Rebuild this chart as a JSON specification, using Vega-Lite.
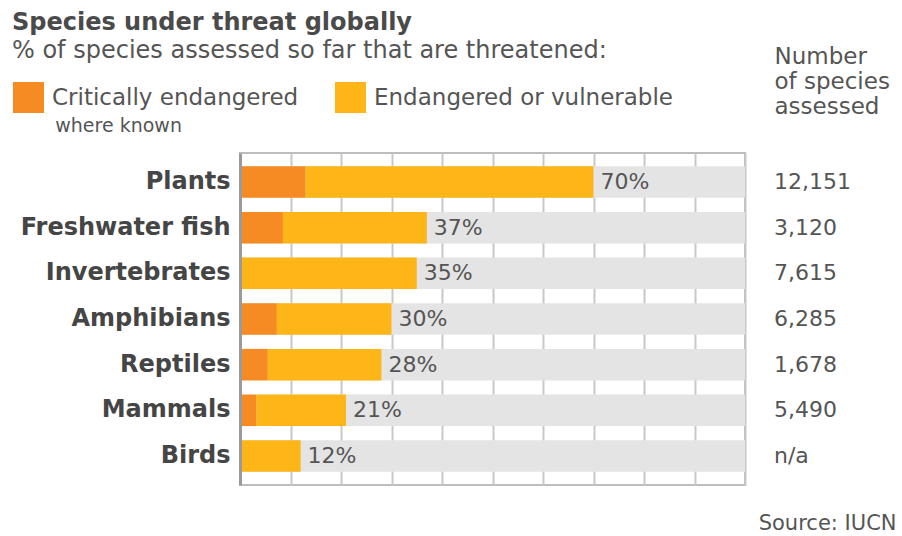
{
  "$schema": "https://vega.github.io/schema/vega-lite/v6.json",
  "autosize": {"type": "none"},
  "padding": {"left": 240, "top": 153, "right": 157, "bottom": 51},
  "width": 505,
  "height": 332,
  "background": "white",
  "config": {
    "font": "DejaVu Sans",
    "view": {"stroke": "#bdbdbd", "strokeWidth": 2},
    "axisX": {
      "grid": true, "gridColor": "#c8c8c8", "gridWidth": 2,
      "labels": false, "ticks": false, "domain": false,
      "titleFontSize": 21, "titleFontWeight": "normal", "titleColor": "#555555"
    }
  },
  "title": {
    "text": "Species under threat globally",
    "subtitle": "% of species assessed so far that are threatened:",
    "anchor": "start",
    "frame": "group",
    "offset": 0,
    "dx": -228,
    "dy": 18,
    "font": "DejaVu Sans",
    "fontSize": 24,
    "fontWeight": "bold",
    "color": "#4a4a4a",
    "subtitleFont": "DejaVu Sans",
    "subtitleFontSize": 24,
    "subtitleColor": "#555555",
    "subtitlePadding": 4
  },
  "datasets": {
    "segments": [
      {"group": "Plants", "status": "Critically endangered", "ord": 1, "value": 13},
      {"group": "Plants", "status": "Endangered or vulnerable", "ord": 2, "value": 57},
      {"group": "Freshwater fish", "status": "Critically endangered", "ord": 1, "value": 8.5},
      {"group": "Freshwater fish", "status": "Endangered or vulnerable", "ord": 2, "value": 28.5},
      {"group": "Invertebrates", "status": "Endangered or vulnerable", "ord": 2, "value": 35},
      {"group": "Amphibians", "status": "Critically endangered", "ord": 1, "value": 7.3},
      {"group": "Amphibians", "status": "Endangered or vulnerable", "ord": 2, "value": 22.7},
      {"group": "Reptiles", "status": "Critically endangered", "ord": 1, "value": 5.5},
      {"group": "Reptiles", "status": "Endangered or vulnerable", "ord": 2, "value": 22.5},
      {"group": "Mammals", "status": "Critically endangered", "ord": 1, "value": 3.2},
      {"group": "Mammals", "status": "Endangered or vulnerable", "ord": 2, "value": 17.8},
      {"group": "Birds", "status": "Endangered or vulnerable", "ord": 2, "value": 12}
    ],
    "totals": [
      {"group": "Plants", "total": 70, "pct": "70%", "assessed": "12,151"},
      {"group": "Freshwater fish", "total": 37, "pct": "37%", "assessed": "3,120"},
      {"group": "Invertebrates", "total": 35, "pct": "35%", "assessed": "7,615"},
      {"group": "Amphibians", "total": 30, "pct": "30%", "assessed": "6,285"},
      {"group": "Reptiles", "total": 28, "pct": "28%", "assessed": "1,678"},
      {"group": "Mammals", "total": 21, "pct": "21%", "assessed": "5,490"},
      {"group": "Birds", "total": 12, "pct": "12%", "assessed": "n/a"}
    ]
  },
  "layer": [
    {
      "data": {"name": "totals"},
      "mark": {"type": "bar", "color": "#e4e4e4"},
      "encoding": {
        "y": {
          "field": "group", "type": "nominal",
          "sort": ["Plants", "Freshwater fish", "Invertebrates", "Amphibians", "Reptiles", "Mammals", "Birds"],
          "scale": {"paddingInner": 0.31, "paddingOuter": 0.29},
          "axis": {
            "title": null, "ticks": false, "grid": false,
            "domainColor": "#9a9a9a", "domainWidth": 3, "zindex": 1,
            "labelFontSize": 24, "labelFontWeight": "bold", "labelColor": "#454545",
            "labelPadding": 10, "labelLimit": 300
          }
        },
        "x": {
          "datum": 100, "type": "quantitative",
          "scale": {"domain": [0, 100], "nice": false},
          "axis": {
            "values": [0, 10, 20, 30, 40, 50, 60, 70, 80, 90, 100],
            "title": "Source: IUCN", "titleX": 656, "titleY": 38,
            "titleAlign": "right", "titleBaseline": "middle"
          }
        }
      }
    },
    {
      "data": {"name": "segments"},
      "mark": {"type": "bar"},
      "encoding": {
        "y": {
          "field": "group", "type": "nominal",
          "sort": ["Plants", "Freshwater fish", "Invertebrates", "Amphibians", "Reptiles", "Mammals", "Birds"],
          "axis": null
        },
        "x": {
          "field": "value", "type": "quantitative", "stack": "zero",
          "axis": {
            "values": [0, 10, 20, 30, 40, 50, 60, 70, 80, 90, 100],
            "title": "Source: IUCN", "titleX": 656, "titleY": 38,
            "titleAlign": "right", "titleBaseline": "middle"
          }
        },
        "order": {"field": "ord", "type": "quantitative"},
        "color": {
          "field": "status", "type": "nominal",
          "scale": {
            "domain": ["Critically endangered", "Endangered or vulnerable"],
            "range": ["#f58b22", "#fdb517"]
          },
          "legend": {
            "orient": "none", "legendX": -227, "legendY": -71,
            "direction": "horizontal",
            "title": "\u200b\u00a0\u00a0\u00a0\u00a0\u00a0\u00a0\u00a0where known",
            "titleOrient": "bottom", "titleAnchor": "start",
            "titleFontSize": 19, "titleFontWeight": "normal", "titleColor": "#555555",
            "titlePadding": 4,
            "symbolType": "square", "symbolSize": 961, "symbolStrokeWidth": 0, "symbolOpacity": 1,
            "labelFontSize": 23, "labelColor": "#555555", "labelOffset": 8, "labelLimit": 400,
            "columnPadding": 36, "padding": 0
          }
        }
      }
    },
    {
      "data": {"name": "totals"},
      "mark": {"type": "text", "align": "left", "baseline": "middle", "dx": 7, "fontSize": 22, "color": "#555555"},
      "encoding": {
        "y": {
          "field": "group", "type": "nominal",
          "sort": ["Plants", "Freshwater fish", "Invertebrates", "Amphibians", "Reptiles", "Mammals", "Birds"],
          "axis": null
        },
        "x": {
          "field": "total", "type": "quantitative",
          "axis": {
            "values": [0, 10, 20, 30, 40, 50, 60, 70, 80, 90, 100],
            "title": "Source: IUCN", "titleX": 656, "titleY": 38,
            "titleAlign": "right", "titleBaseline": "middle"
          }
        },
        "text": {"field": "pct"}
      }
    },
    {
      "data": {"name": "totals"},
      "mark": {"type": "text", "align": "left", "baseline": "middle", "dx": 29, "fontSize": 22, "color": "#555555"},
      "encoding": {
        "y": {
          "field": "group", "type": "nominal",
          "sort": ["Plants", "Freshwater fish", "Invertebrates", "Amphibians", "Reptiles", "Mammals", "Birds"],
          "axis": {
            "orient": "right", "labels": false, "ticks": false, "domain": false, "grid": false,
            "title": ["Number", "of species", "assessed"],
            "titleAngle": 0, "titleAlign": "left", "titleBaseline": "alphabetic",
            "titleX": 29, "titleY": -90, "titleLineHeight": 25,
            "titleFontSize": 23, "titleFontWeight": "normal", "titleColor": "#555555"
          }
        },
        "x": {
          "datum": 100, "type": "quantitative",
          "axis": {
            "values": [0, 10, 20, 30, 40, 50, 60, 70, 80, 90, 100],
            "title": "Source: IUCN", "titleX": 656, "titleY": 38,
            "titleAlign": "right", "titleBaseline": "middle"
          }
        },
        "text": {"field": "assessed"}
      }
    }
  ],
  "resolve": {"axis": {"y": "independent"}}
}
